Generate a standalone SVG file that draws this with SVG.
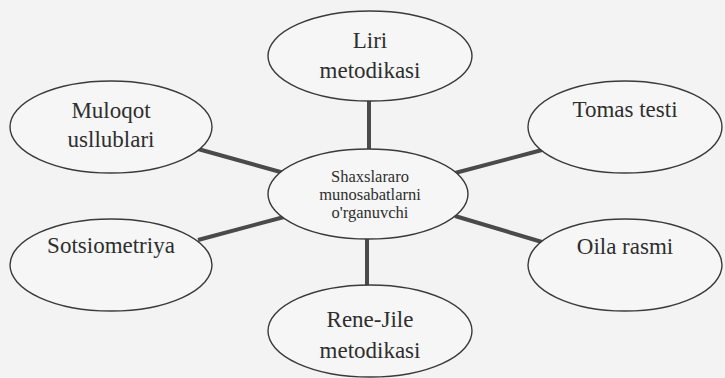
<svg xmlns="http://www.w3.org/2000/svg" width="725" height="378" viewBox="0 0 725 378">
<style>
.bg{fill:#f3f3f3}
.node ellipse{fill:#f6f6f6;stroke:#3a3a3a;stroke-width:1.4}
.node text{font-family:"Liberation Serif","Times New Roman",serif;font-size:23px;fill:#2e2e2e;text-anchor:middle}
#center text{font-size:16.5px}
#connectors line{stroke:#4a4a4a;stroke-width:4;stroke-linecap:butt}
</style>
<rect class="bg" x="0" y="0" width="725" height="378"/>
<g id="connectors">
<line x1="369" y1="100" x2="369" y2="149"/>
<line x1="367" y1="239" x2="367" y2="286"/>
<line x1="198" y1="149" x2="284" y2="173"/>
<line x1="198" y1="240" x2="284" y2="217"/>
<line x1="455" y1="173" x2="542" y2="150"/>
<line x1="455" y1="216" x2="542" y2="242"/>
</g>
<g id="center" class="node">
<ellipse cx="368" cy="194" rx="100" ry="45"/>
<text x="370" y="182">Shaxslararo</text>
<text x="370" y="200">munosabatlarni</text>
<text x="370" y="218">o'rganuvchi</text>
</g>
<g id="liri" class="node">
<ellipse cx="370" cy="56" rx="102" ry="45"/>
<text x="370" y="48">Liri</text>
<text x="370" y="78">metodikasi</text>
</g>
<g id="muloqot" class="node">
<ellipse cx="111" cy="127" rx="101" ry="46"/>
<text x="111" y="118">Muloqot</text>
<text x="111" y="147">usllublari</text>
</g>
<g id="tomas" class="node">
<ellipse cx="625" cy="127" rx="97" ry="46"/>
<text x="625" y="117">Tomas testi</text>
</g>
<g id="sotsiometriya" class="node">
<ellipse cx="111" cy="265" rx="101" ry="46"/>
<text x="111" y="253">Sotsiometriya</text>
</g>
<g id="oila" class="node">
<ellipse cx="625" cy="265" rx="97" ry="46"/>
<text x="625" y="254">Oila rasmi</text>
</g>
<g id="renejile" class="node">
<ellipse cx="370" cy="331" rx="102" ry="46"/>
<text x="370" y="327">Rene-Jile</text>
<text x="370" y="358">metodikasi</text>
</g>
</svg>
